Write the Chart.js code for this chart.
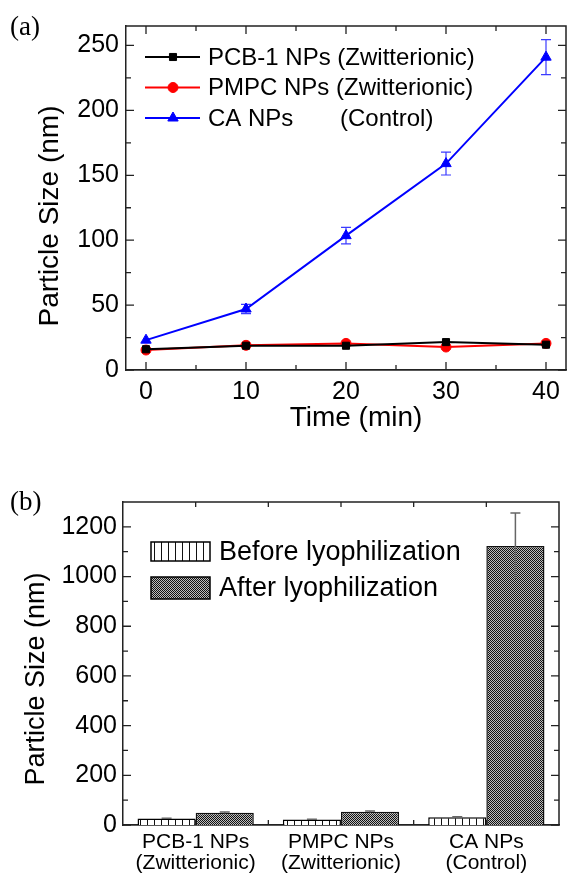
<!DOCTYPE html>
<html><head><meta charset="utf-8">
<script src="https://cdn.jsdelivr.net/npm/chart.js@4.4.1/dist/chart.umd.min.js"></script>
<style>
html,body{margin:0;padding:0;background:#fff;}
#w1{position:absolute;left:0;top:0;width:573px;height:440px;}
#w2{position:absolute;left:0;top:440px;width:573px;height:434px;}
</style></head><body>
<div id="w1"><canvas id="c1"></canvas></div>
<div id="w2"><canvas id="c2"></canvas></div>
<script>
// ---------- data (a) ----------
const timeMin = [0, 10, 20, 30, 40];
const pcbSize = [16, 18.7, 18.7, 21.5, 19.5];
const pmpcSize = [15.4, 19, 20.5, 17.7, 20.5];
const caSize = [23, 47, 103.5, 159, 241];
const caErr = [1.5, 3.5, 6.3, 8.8, 13.5];
const pcbErr = [1, 1, 1, 1, 1];
const pmpcErr = [1, 1, 1, 1, 1];
const lineNames = ['PCB-1 NPs (Zwitterionic)', 'PMPC NPs (Zwitterionic)', 'CA NPs       (Control)'];
const xMajorA = [0, 10, 20, 30, 40];
const xMinorA = [5, 15, 25, 35];
const yMajorA = [0, 50, 100, 150, 200, 250];
const yMinorA = [25, 75, 125, 175, 225];

// ---------- data (b) ----------
const barCats = [['PCB-1 NPs', '(Zwitterionic)'], ['PMPC NPs', '(Zwitterionic)'], ['CA NPs', '(Control)']];
const beforeSize = [26, 22, 31];
const afterSize = [49.5, 53.5, 1123];
const beforeErr = [1.5, 1.5, 2];
const afterErr = [3, 3, 133];
const barNames = ['Before lyophilization', 'After lyophilization'];
const yMajorB = [0, 200, 400, 600, 800, 1000, 1200];
const yMinorB = [100, 300, 500, 700, 900, 1100];

const FONT = 'Liberation Sans, Arial, Helvetica, sans-serif';
const SERIF = 'Liberation Serif, Times New Roman, serif';

// patterns
function makeBeforePattern() {
  const c = document.createElement('canvas'); c.width = 7; c.height = 7;
  const g = c.getContext('2d');
  g.fillStyle = '#fff'; g.fillRect(0, 0, 7, 7);
  g.fillStyle = '#111'; g.fillRect(0, 0, 1, 7);
  return document.createElement('canvas').getContext('2d').createPattern(c, 'repeat');
}
function makeAfterPattern() {
  const c = document.createElement('canvas'); c.width = 2; c.height = 2;
  const g = c.getContext('2d');
  g.fillStyle = '#bdbdbd'; g.fillRect(0, 0, 2, 2);
  g.fillStyle = '#111111'; g.fillRect(0, 0, 1, 1); g.fillRect(1, 1, 1, 1);
  return document.createElement('canvas').getContext('2d').createPattern(c, 'repeat');
}
const patBefore = makeBeforePattern();
const patAfter = makeAfterPattern();

// ---------- generic helpers ----------
function drawTicksPx(ctx, a, xs, ys) {
  ctx.save();
  ctx.strokeStyle = '#222'; ctx.lineWidth = 1.3;
  ctx.beginPath();
  xs.forEach(t => {
    ctx.moveTo(t.px, a.bottom); ctx.lineTo(t.px, a.bottom - t.len);
    ctx.moveTo(t.px, a.top); ctx.lineTo(t.px, a.top + t.len);
  });
  ys.forEach(t => {
    ctx.moveTo(a.left, t.px); ctx.lineTo(a.left + t.len, t.px);
    ctx.moveTo(a.right, t.px); ctx.lineTo(a.right - t.len, t.px);
  });
  ctx.stroke();
  ctx.lineWidth = 1.5;
  ctx.beginPath();
  ctx.moveTo(a.left, a.top); ctx.lineTo(a.right, a.top); ctx.lineTo(a.right, a.bottom);
  ctx.stroke();
  ctx.restore();
}
function drawTitle(ctx, text, x, y, size, rot) {
  ctx.save();
  ctx.translate(x, y); if (rot) ctx.rotate(-Math.PI / 2);
  ctx.font = size + 'px ' + FONT; ctx.fillStyle = '#000';
  ctx.textAlign = 'center'; ctx.textBaseline = 'middle';
  ctx.fillText(text, 0, 0);
  ctx.restore();
}
function drawPanelLabel(ctx, text, x, y) {
  ctx.save();
  ctx.font = '27px ' + SERIF; ctx.fillStyle = '#000';
  ctx.textAlign = 'left'; ctx.textBaseline = 'middle';
  ctx.fillText(text, x, y);
  ctx.restore();
}
const plainNum = v => String(v);

// ---------- chart (a) ----------
const lineColors = ['#000000', '#ff0000', '#0000ff'];
const lineStyles = ['rect', 'circle', 'triangle'];
const lineRadius = [5, 5, 6];
const lineErrs = [pcbErr, pmpcErr, caErr];
const errColors = ['#000000', '#ff0000', '#3b3bff'];

const plugA = {
  id: 'plugA',
  beforeDatasetsDraw(chart) {
    const ctx = chart.ctx, xs = chart.scales.x, ys = chart.scales.y;
    ctx.save(); ctx.lineWidth = 1.2;
    chart.data.datasets.forEach((ds, di) => {
      ctx.strokeStyle = errColors[di];
      ctx.beginPath();
      ds.data.forEach((p, i) => {
        const e = lineErrs[di][i];
        const x = xs.getPixelForValue(p.x);
        const y1 = ys.getPixelForValue(p.y + e), y2 = ys.getPixelForValue(p.y - e);
        ctx.moveTo(x, y1); ctx.lineTo(x, y2);
        if (di === 2 && e > 2) {
          ctx.moveTo(x - 5, y1); ctx.lineTo(x + 5, y1);
          ctx.moveTo(x - 5, y2); ctx.lineTo(x + 5, y2);
        }
      });
      ctx.stroke();
    });
    ctx.restore();
  },
  afterDraw(chart) {
    const ctx = chart.ctx, a = chart.chartArea, xs = chart.scales.x, ys = chart.scales.y;
    const xt = xMajorA.map(v => ({px: xs.getPixelForValue(v), len: 8}))
      .concat(xMinorA.map(v => ({px: xs.getPixelForValue(v), len: 5})));
    const yt = yMajorA.map(v => ({px: ys.getPixelForValue(v), len: 8}))
      .concat(yMinorA.map(v => ({px: ys.getPixelForValue(v), len: 5})));
    drawTicksPx(ctx, a, xt, yt);
    drawTitle(ctx, 'Particle Size (nm)', 50, 216, 28, true);
    drawTitle(ctx, 'Time (min)', 356, 418, 28, false);
    drawPanelLabel(ctx, '(a)', 10, 28);
    // legend
    ctx.save();
    const rows = [57, 87.5, 118];
    chart.data.datasets.forEach((ds, i) => {
      const y = rows[i];
      ctx.strokeStyle = ds.borderColor; ctx.lineWidth = 2;
      ctx.beginPath(); ctx.moveTo(145, y); ctx.lineTo(200, y); ctx.stroke();
      ctx.fillStyle = ds.backgroundColor; ctx.strokeStyle = ds.borderColor; ctx.lineWidth = 1;
      Chart.helpers.drawPoint(ctx, {pointStyle: ds.pointStyle, radius: ds.pointRadius, rotation: 0, borderWidth: 1}, 173, y);
      ctx.fillStyle = '#000'; ctx.font = '24px ' + FONT;
      ctx.textAlign = 'left'; ctx.textBaseline = 'middle';
      ctx.fillText(ds.label, 208, y + 1);
    });
    ctx.restore();
  }
};

new Chart(document.getElementById('c1'), {
  type: 'line',
  data: {
    datasets: lineNames.map((name, i) => ({
      label: name,
      data: timeMin.map((t, j) => ({x: t, y: [pcbSize, pmpcSize, caSize][i][j]})),
      borderColor: lineColors[i],
      backgroundColor: lineColors[i],
      borderWidth: 2,
      pointStyle: lineStyles[i],
      pointRadius: lineRadius[i],
      pointBorderWidth: 1,
      tension: 0
    }))
  },
  options: {
    animation: false, responsive: true, maintainAspectRatio: false,
    layout: {padding: {left: 0, right: 1, top: 26, bottom: 0}},
    plugins: {legend: {display: false}, tooltip: {enabled: false}},
    scales: {
      x: {
        type: 'linear', min: -2, max: 42,
        grid: {display: false, drawTicks: false},
        border: {display: true, color: '#222', width: 1.8},
        ticks: {stepSize: 10, includeBounds: false, padding: 7, color: '#000', callback: plainNum,
          font: {family: FONT, size: 25, lineHeight: 1.2}},
        afterFit(s) { s.height = 70; }
      },
      y: {
        min: 0, max: 265,
        grid: {display: false, drawTicks: false},
        border: {display: true, color: '#222', width: 1.5},
        ticks: {stepSize: 50, includeBounds: false, padding: 7, color: '#000', callback: plainNum,
          font: {family: FONT, size: 25, lineHeight: 1.2}},
        afterFit(s) { s.width = 126; }
      }
    }
  },
  plugins: [plugA]
});

// ---------- chart (b) ----------
const barErrs = [beforeErr, afterErr];
const plugB = {
  id: 'plugB',
  afterDatasetsDraw(chart) {
    const ctx = chart.ctx, ys = chart.scales.y;
    ctx.save(); ctx.strokeStyle = '#666'; ctx.lineWidth = 1.5;
    chart.data.datasets.forEach((ds, di) => {
      const meta = chart.getDatasetMeta(di);
      meta.data.forEach((el, i) => {
        const v = ds.data[i], e = barErrs[di][i];
        const y1 = ys.getPixelForValue(v + e), y2 = ys.getPixelForValue(v - e);
        ctx.beginPath();
        ctx.moveTo(el.x, y1); ctx.lineTo(el.x, y2);
        ctx.moveTo(el.x - 5, y1); ctx.lineTo(el.x + 5, y1);
        ctx.stroke();
      });
    });
    ctx.restore();
  },
  afterDraw(chart) {
    const ctx = chart.ctx, a = chart.chartArea, xs = chart.scales.x, ys = chart.scales.y;
    const xt = [];
    for (let i = 0; i < barCats.length; i++) {
      xt.push({px: xs.getPixelForValue(i), len: 5});
      if (i < barCats.length - 1) xt.push({px: (xs.getPixelForValue(i) + xs.getPixelForValue(i + 1)) / 2, len: 5});
    }
    const yt = yMajorB.map(v => ({px: ys.getPixelForValue(v), len: 8}))
      .concat(yMinorB.map(v => ({px: ys.getPixelForValue(v), len: 5})));
    drawTicksPx(ctx, a, xt, yt);
    drawTitle(ctx, 'Particle Size (nm)', 37, 239, 27, true);
    drawPanelLabel(ctx, '(b)', 10, 63);
    // legend
    ctx.save();
    const rows = [{y: 102, h: 19}, {y: 137, h: 22}];
    chart.data.datasets.forEach((ds, i) => {
      const r = rows[i];
      ctx.fillStyle = ds.backgroundColor;
      ctx.fillRect(151, r.y, 59, r.h);
      ctx.strokeStyle = '#000'; ctx.lineWidth = 1.5;
      ctx.strokeRect(151, r.y, 59, r.h);
      ctx.fillStyle = '#000'; ctx.font = '27px ' + FONT;
      ctx.textAlign = 'left'; ctx.textBaseline = 'middle';
      ctx.fillText(ds.label, 219, r.y + r.h / 2 + 1);
    });
    ctx.restore();
  }
};

new Chart(document.getElementById('c2'), {
  type: 'bar',
  data: {
    labels: barCats,
    datasets: [
      {label: barNames[0], data: beforeSize, backgroundColor: patBefore, borderColor: '#000',
        borderWidth: 1.5, barPercentage: 1, categoryPercentage: 0.8},
      {label: barNames[1], data: afterSize, backgroundColor: patAfter, borderColor: '#111',
        borderWidth: 1.5, barPercentage: 1, categoryPercentage: 0.8}
    ]
  },
  options: {
    animation: false, responsive: true, maintainAspectRatio: false,
    layout: {padding: {left: 0, right: 14, top: 62, bottom: 0}},
    plugins: {legend: {display: false}, tooltip: {enabled: false}},
    scales: {
      x: {
        grid: {display: false, drawTicks: false},
        border: {display: true, color: '#222', width: 1.8},
        ticks: {padding: 6.5, color: '#000', maxRotation: 0,
          font: {family: FONT, size: 21, lineHeight: 1.0}},
        afterFit(s) { s.height = 49; }
      },
      y: {
        min: 0, max: 1300,
        grid: {display: false, drawTicks: false},
        border: {display: true, color: '#222', width: 1.5},
        ticks: {stepSize: 200, includeBounds: false, padding: 6, color: '#000', callback: plainNum,
          font: {family: FONT, size: 25, lineHeight: 1.2}},
        afterFit(s) { s.width = 123; }
      }
    }
  },
  plugins: [plugB]
});
</script>
</body></html>
